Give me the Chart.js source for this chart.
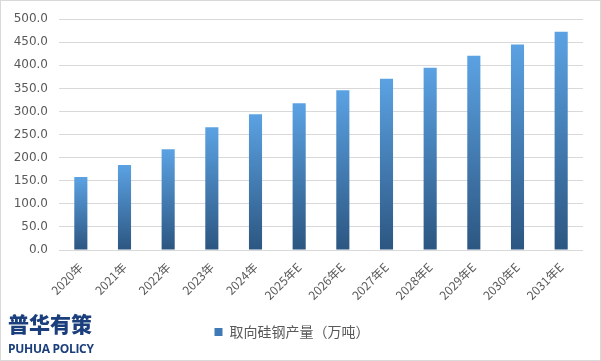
<!DOCTYPE html>
<html>
<head>
<meta charset="utf-8">
<script src="https://cdn.jsdelivr.net/npm/chart.js@4/dist/chart.umd.min.js"></script>
<style>
  html, body { margin: 0; padding: 0; background: #fff; }
  #wrap { position: relative; width: 601px; height: 361px; box-sizing: border-box; border: 1px solid #d9d9d9; }
  #chart { position: absolute; left: 0; top: 0; }
  #logo { position: absolute; left: 7px; top: 309px; color: #1b3f7c; font-family: "Noto Sans CJK SC", sans-serif; }
  #logo .cn { font-size: 21px; font-weight: 900; line-height: 26px; }
  #logo .en { font-size: 12px; font-weight: 700; line-height: 15px; margin-top: 5px; font-family: "Open Sans", sans-serif; letter-spacing: -0.3px; }
</style>
</head>
<body>
<div id="wrap">
  <canvas id="chart" width="599" height="359"></canvas>
  <div id="logo"><div class="cn">普华有策</div><div class="en">PUHUA POLICY</div></div>
</div>
<script>
const categories = ['2020年', '2021年', '2022年', '2023年', '2024年', '2025年E', '2026年E', '2027年E', '2028年E', '2029年E', '2030年E', '2031年E'];
const production = [158, 184, 218, 266, 294, 318, 346, 371, 395, 421, 445, 473];
const seriesName = '取向硅钢产量（万吨）';

const ctx = document.getElementById('chart').getContext('2d');

// each bar gets its own light-to-dark fill, like the Excel original
function barGradient(context) {
    const chart = context.chart;
    if (!chart.chartArea || context.type !== 'data') return '#4a8ccf';
    const yScale = chart.scales.y;
    const top = yScale.getPixelForValue(context.parsed.y);
    const bottom = yScale.getPixelForValue(0);
    const g = chart.ctx.createLinearGradient(0, top, 0, bottom);
    g.addColorStop(0, '#5ba2e3');
    g.addColorStop(1, '#2c5681');
    return g;
}

new Chart(ctx, {
    type: 'bar',
    data: {
        labels: categories,
        datasets: [{
            label: seriesName,
            data: production,
            backgroundColor: barGradient,
            barPercentage: 0.3,
            categoryPercentage: 1
        }]
    },
    options: {
        responsive: false,
        animation: false,
        layout: { padding: { top: 11, right: 17, left: 0, bottom: 11 } },
        plugins: {
            tooltip: { enabled: false },
            legend: {
                position: 'bottom',
                labels: {
                    boxWidth: 8,
                    boxHeight: 8,
                    color: '#595959',
                    font: { family: '"Noto Sans CJK SC", sans-serif', size: 14 },
                    generateLabels: chart => [{
                        text: seriesName,
                        fillStyle: '#3f79b6',
                        strokeStyle: '#3f79b6',
                        lineWidth: 0,
                        fontColor: '#595959'
                    }]
                }
            }
        },
        scales: {
            x: {
                grid: { display: false },
                border: { display: false },
                ticks: {
                    autoSkip: false,
                    minRotation: 45,
                    maxRotation: 45,
                    color: '#595959',
                    padding: 2,
                    font: { family: '"Noto Sans CJK SC", "DejaVu Sans", sans-serif', size: 12 }
                },
                afterFit: scale => { scale.height = 65; }
            },
            y: {
                min: 0,
                max: 500,
                grid: { color: '#d9d9d9', drawTicks: false },
                border: { display: false },
                ticks: {
                    stepSize: 50,
                    color: '#595959',
                    padding: 11,
                    font: { family: '"DejaVu Sans", sans-serif', size: 12 },
                    callback: v => v.toFixed(1)
                },
                afterFit: scale => { scale.width = 58; }
            }
        }
    }
});
</script>
</body>
</html>
